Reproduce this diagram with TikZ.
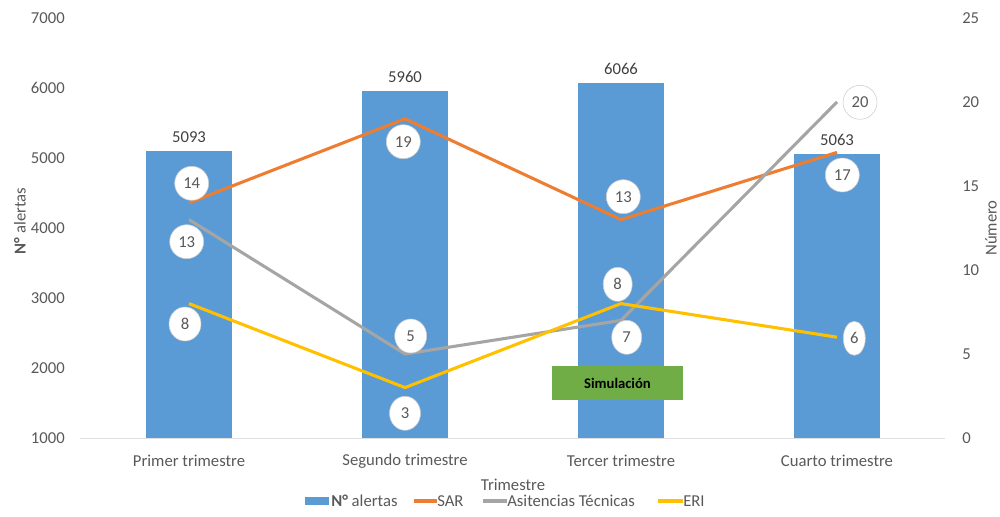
\documentclass[tikz,border=0pt]{standalone}
\usepackage{fontspec}
\setmainfont{Carlito}
\usetikzlibrary{shapes.geometric}
\definecolor{barblue}{HTML}{5B9BD5}
\definecolor{sarorange}{HTML}{ED7D31}
\definecolor{astgray}{HTML}{A5A5A5}
\definecolor{erigold}{HTML}{FFC000}
\definecolor{simgreen}{HTML}{70AD47}
\definecolor{txtgray}{HTML}{595959}
\tikzset{
    barbox/.style = {fill = barblue, inner sep = 0pt, outer sep = 0pt, minimum width = 64.5pt},
    serie/.style = {line width = 2.3pt, line join = round},
    valbox/.style = {ellipse, draw = gray!40, fill = white, inner sep = 0pt, minimum height = 25.5pt},
    legtext/.style = {anchor = west, inner sep = 0pt}
}
\begin{document}
\begin{tikzpicture}[x = 0.75pt, y = -0.75pt, every node/.append style = {font = \fontsize{12.5}{15}\selectfont, text = txtgray}]
    \useasboundingbox (0,0) rectangle (1000,517);
    \begin{scope}
        \foreach \y [count = \i] in {1000, 2000, ..., 7000}
            \node[anchor = east, inner sep = 0pt] (yl\i) at (65,{438-0.07*(\y-1000)}) {\y};
        \foreach \y [count = \i] in {0, 5, ..., 25}
            \node[anchor = west, inner sep = 0pt] (yr\i) at (962,{438-16.8*\y}) {\y};
        \draw[style = thin, gray!25] (80,438.5) -- (945,438.5);
        \foreach \t [count = \i] in {Primer trimestre, Segundo trimestre, Tercer trimestre, Cuarto trimestre}
            \node (cat\i) at ({189+216*(\i-1)},461) {\t};
        \node[rotate = 90] (ytitle) at (20,221) {\textbf{N°} alertas};
        \node[rotate = 90] (y2title) at (991,228) {Número};
        \node (xtitle) at (513,485) {Trimestre};
    \end{scope}
    \foreach \v [count = \i] in {5093, 5960, 6066, 5063} {
        \node[barbox, anchor = south, minimum height = {0.0525pt*(\v-1000)}] (bar\i) at ({189+216*(\i-1)},438) {};
        \node[text = black!75] (num\i) at ([yshift = 10.5pt]bar\i.north) {\v};
    }
    \foreach \sar/\ast/\eri [count = \i] in {14/13/8, 19/5/3, 13/7/8, 17/20/6} {
        \coordinate (sar\i) at ({189+216*(\i-1)},{438-16.8*\sar});
        \coordinate (ast\i) at ({189+216*(\i-1)},{438-16.8*\ast});
        \coordinate (eri\i) at ({189+216*(\i-1)},{438-16.8*\eri});
    }
    \node[fill = simgreen, minimum width = 97.8pt, minimum height = 25.3pt, inner sep = 0pt, text = black, font = \bfseries\fontsize{11}{13}\selectfont] (sim) at (617.5,383) {Simulación};
    \draw[serie, sarorange] (sar1) -- (sar2) -- (sar3) -- (sar4);
    \draw[serie, astgray] (ast1) -- (ast2) -- (ast3) -- (ast4);
    \draw[serie, erigold] (eri1) -- (eri2) -- (eri3) -- (eri4);
    \foreach \px/\py/\w/\t [count = \i] in {191.7/183.3/34/14, 186.7/241.7/34/13, 185/324/32/8, 403.3/141.7/34/19, 410.7/336/32/5, 405/413.3/31/3, 623.3/196.7/34/13, 617.7/284.3/29/8, 626.7/337.3/30/7, 860/102.3/34/20, 842.3/175/34/17, 854.3/338.3/22/6}
        \node[valbox, minimum width = {0.75pt*\w}] (lbl\i) at (\px,\py) {\t};
    \node[fill = barblue, minimum width = 18pt, minimum height = 6.5pt, inner sep = 0pt] (legbar) at (317,501) {};
    \node[legtext] (legalertas) at (331,501) {\textbf{N°} alertas};
    \coordinate (legsara) at (414,501);
    \coordinate (legsarb) at (437,501);
    \draw[serie, sarorange] (legsara) -- (legsarb);
    \node[legtext] (legsar) at (legsarb) {SAR};
    \coordinate (legasta) at (483,501);
    \coordinate (legastb) at (507,501);
    \draw[serie, astgray] (legasta) -- (legastb);
    \node[legtext] (legast) at (legastb) {Asitencias Técnicas};
    \coordinate (legeria) at (658,501);
    \coordinate (legerib) at (683,501);
    \draw[serie, erigold] (legeria) -- (legerib);
    \node[legtext] (legeri) at (legerib) {ERI};
\end{tikzpicture}
\end{document}
